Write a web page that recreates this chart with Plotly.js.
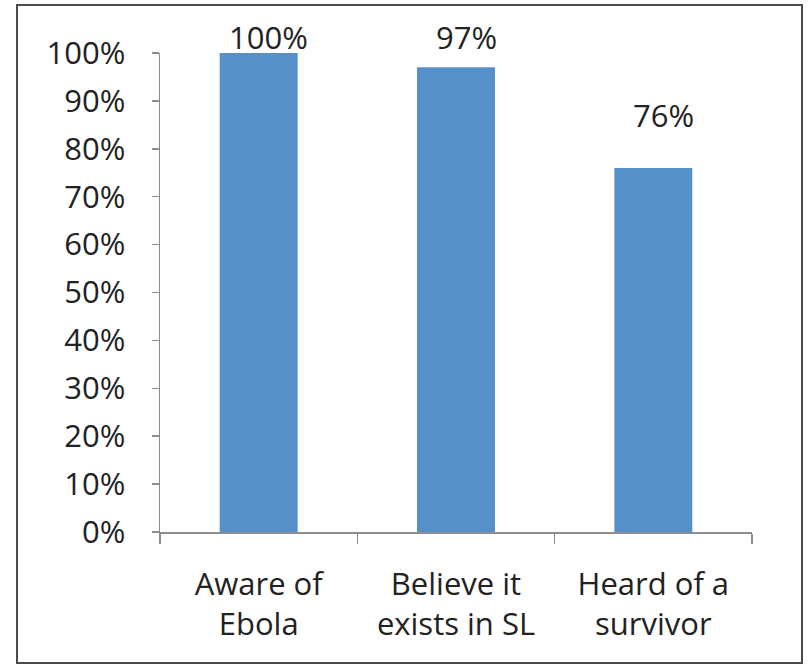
<!DOCTYPE html>
<html>
<head>
<meta charset="utf-8">
<script src="https://cdn.plot.ly/plotly-3.0.1.min.js"></script>
<style>
  html, body { margin: 0; padding: 0; background: #fff; }
  #wrap { position: relative; width: 810px; height: 665px; }
  #chart { width: 810px; height: 665px; }
  #frame { position: absolute; left: 16px; top: 4px; width: 783px; height: 656px;
           border: 2px solid #4a4a4a; pointer-events: none; }
</style>
</head>
<body>
<div id="wrap">
  <div id="chart"></div>
  <div id="frame"></div>
</div>
<script>
const categories = ["Aware of<br>Ebola", "Believe it<br>exists in SL", "Heard of a<br>survivor"];
const values = [1.00, 0.97, 0.76];
const valueLabels = ["100%", "97%", "76%"];
const yTickVals = [0, 0.1, 0.2, 0.3, 0.4, 0.5, 0.6, 0.7, 0.8, 0.9, 1.0];
const yTickText = ["0%", "10%", "20%", "30%", "40%", "50%", "60%", "70%", "80%", "90%", "100%"];

// per-label vertical offsets (px) – styling only
const labelShift = [16, 30, 53];

const font = { family: "Open Sans, sans-serif", size: 31, color: "#222222" };

const trace = {
  type: "bar",
  x: categories,
  y: values,
  marker: { color: "#5690C8", line: { width: 0 } },
  hoverinfo: "none"
};

const annotations = categories.map((c, i) => ({
  x: c, y: values[i], xref: "x", yref: "y",
  text: valueLabels[i], showarrow: false,
  yshift: labelShift[i], xshift: 10,
  font: font
}));

const layout = {
  width: 810, height: 665,
  margin: { l: 160, r: 58, t: 53, b: 133 },
  paper_bgcolor: "#ffffff",
  plot_bgcolor: "#ffffff",
  bargap: 0.605,
  showlegend: false,
  font: font,
  xaxis: {
    type: "category",
    showline: true, linecolor: "#8c8c8c", linewidth: 1.5,
    ticks: "outside", tickson: "boundaries", ticklen: 10, tickcolor: "#8c8c8c", tickwidth: 1.5,
    showgrid: false, zeroline: false,
    tickfont: font,
    ticklabelstandoff: 24
  },
  yaxis: {
    range: [0, 1],
    tickvals: yTickVals, ticktext: yTickText,
    showline: true, linecolor: "#8c8c8c", linewidth: 1.5,
    ticks: "outside", ticklen: 7, tickcolor: "#8c8c8c", tickwidth: 1.5,
    showgrid: false, zeroline: false,
    tickfont: font,
    ticklabelstandoff: 20
  },
  annotations: annotations
};

Plotly.newPlot("chart", [trace], layout, { staticPlot: true, displayModeBar: false });
</script>
</body>
</html>
